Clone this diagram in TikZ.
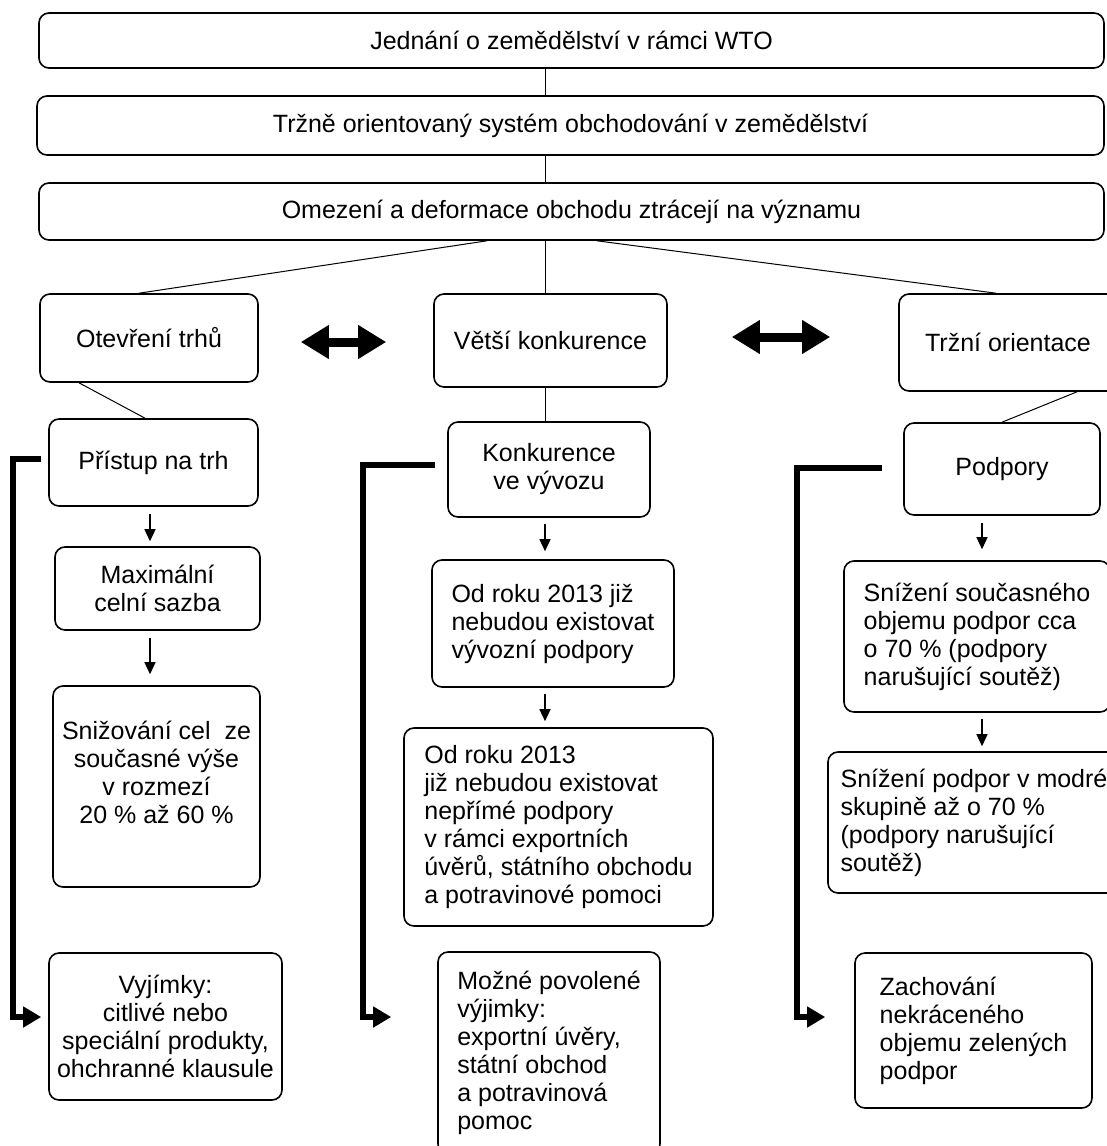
\documentclass[tikz,border=0pt]{standalone}
\usepackage{fontspec}
\setmainfont{Liberation Sans}
\usepackage{tikz}
\usetikzlibrary{arrows.meta,calc}

\begin{document}
\begin{tikzpicture}[x=0.5pt,y=-0.5pt]
			\tikzstyle{Box}		= [draw, rounded corners=5pt, line width=0.8pt, inner sep=0pt, font=\fontsize{12.5pt}{14pt}\selectfont]
			\tikzstyle{Mid}		= [align=center]
			\tikzstyle{Left}	= [align=left]
			\tikzstyle{Link}	= [line width=0.5pt]
			\tikzstyle{Down}	= [line width=0.7pt, -{Triangle[length=6pt,width=5.5pt]}]
			\tikzstyle{Both}	= [line width=4.5pt, {Triangle[length=14pt,width=16pt]}-{Triangle[length=14pt,width=16pt]}]
			\tikzstyle{Side}	= [line width=3pt, -{Triangle[length=9pt,width=10pt]}]

			\useasboundingbox (0,0) rectangle (1107,1146);
			\clip (0,0) rectangle (1107,1146);
			\coordinate (axis) at (545,0);

			\node (wto) at (571.5,40.5) [Box][minimum width=532.5pt, minimum height=27.5pt] {Jednání o zemědělství v rámci WTO};
			\node (trzne) at (570.5,125.5) [Box][minimum width=533.5pt, minimum height=29.5pt] {Tržně orientovaný systém obchodování v zemědělství};
			\node (omez) at (571.5,211.5) [Box][minimum width=532.5pt, minimum height=28.5pt] {Omezení a deformace obchodu ztrácejí na významu};

			\node (otev) at (149,338) [Box][minimum width=109pt, minimum height=44pt] {Otevření trhů};
			\node (vetsi) at (550.5,340.5) [Box][minimum width=116.5pt, minimum height=46.5pt] {Větší konkurence};
			\node (trzni) at (1008,342.5) [Box][minimum width=109pt, minimum height=48.5pt] {Tržní orientace};

			\node (pristup) at (153.5,462.5) [Box][minimum width=104.5pt, minimum height=43.5pt] {Přístup na trh};
			\node (konkvyv) at (549,469.5) [Box][Mid][minimum width=101pt, minimum height=47.5pt] {Konkurence\\ve vývozu};
			\node (podpory) at (1002,469) [Box][minimum width=98pt, minimum height=46pt] {Podpory};

			\node (maxim) at (157.5,588.5) [Box][Mid][minimum width=102.5pt, minimum height=41.5pt] {Maximální\\celní sazba};
			\node (snizcel) at (156.5,786.5) [Box][Mid][minimum width=103.5pt, minimum height=100.5pt] {Snižování cel~~ze\\současné výše\\v rozmezí\\20~\% až 60~\%\\~};

			\node (odroku1) at (553,623.5) [Box][Left][minimum width=121pt, minimum height=63.5pt] {Od roku 2013 již\\nebudou existovat\\vývozní podpory};
			\node (odroku2) at (558.5,827) [Box][Left][minimum width=154.5pt, minimum height=99pt] {Od roku 2013\\již nebudou existovat\\nepřímé podpory\\v rámci exportních\\úvěrů, státního obchodu\\a potravinové pomoci};

			\node (sniz1) at (977,636.5) [Box][Left][minimum width=133pt, minimum height=75.5pt] {Snížení současného\\objemu podpor cca\\o 70~\% (podpory\\narušující soutěž)};
			\node (sniz2) at (974,822.5) [Box][Left][minimum width=146pt, minimum height=70.5pt] {Snížení podpor v modré\\skupině až o 70~\%\\(podpory narušující\\soutěž)};

			\node (vyjimky) at (165.5,1026.5) [Box][Mid][minimum width=116.5pt, minimum height=73.5pt] {Vyjímky:\\citlivé nebo\\speciální produkty,\\ohchranné klausule};
			\node (mozne) at (549,1053) [Box][Left][minimum width=111pt, minimum height=101pt] {Možné povolené\\výjimky:\\exportní úvěry,\\státní obchod\\a potravinová\\pomoc};
			\node (zachov) at (973.5,1030.5) [Box][Left][minimum width=118.5pt, minimum height=77.5pt] {Zachování\\nekráceného\\objemu zelených\\podpor};

			\draw [-] (wto.south -| axis) to (trzne.north -| axis) [Link];
			\draw [-] (trzne.south -| axis) to (omez.north -| axis) [Link];
			\draw [-] ($(omez.south)+(-84.5,0)$) to ($(otev.north)+(-10,0)$) [Link];
			\draw [-] (omez.south -| axis) to (vetsi.north -| axis) [Link];
			\draw [-] ($(omez.south)+(25.5,0)$) to ($(trzni.north)+(-12,0)$) [Link];
			\draw [-] ($(otev.south)+(-70,0)$) to ($(pristup.north)+(-8.5,0)$) [Link];
			\draw [-] (vetsi.south -| axis) to (konkvyv.north -| axis) [Link];
			\draw [-] ($(trzni.south)+(69,0)$) to (podpory.north) [Link];

			\draw [Both] ($(otev.east)+(42,4)$) to ($(vetsi.west)+(-47,1.5)$);
			\draw [Both] ($(vetsi.east)+(64,-3.5)$) to ($(trzni.west)+(-68,-5.5)$);

			\draw [Down] ($(pristup.south)+(-3.5,7)$) to ($(maxim.north)+(-7.5,-5)$);
			\draw [Down] ($(maxim.south)+(-7.5,7)$) to ($(snizcel.north)+(-6.5,-11)$);
			\draw [Down] ($(konkvyv.south)+(-4,6)$) to ($(odroku1.north)+(-8,-8)$);
			\draw [Down] ($(odroku1.south)+(-8,6)$) to ($(odroku2.north)+(-13.5,-6)$);
			\draw [Down] ($(podpory.south)+(-20,7)$) to ($(sniz1.north)+(5,-11)$);
			\draw [Down] ($(sniz1.south)+(5,6)$) to ($(sniz2.north)+(8,-5)$);

			\draw [Side] ($(pristup.west)+(-7,-3.5)$) -- ++(-28,0) |- ($(vyjimky.west)+(-7,-9.5)$);
			\draw [Side] ($(konkvyv.west)+(-12,-4.5)$) -- ++(-72,0) |- ($(mozne.west)+(-46,-36)$);
			\draw [Side] ($(podpory.west)+(-21,-1)$) -- ++(-85,0) |- ($(zachov.west)+(-29,-13.5)$);
		\end{tikzpicture}
\end{document}
